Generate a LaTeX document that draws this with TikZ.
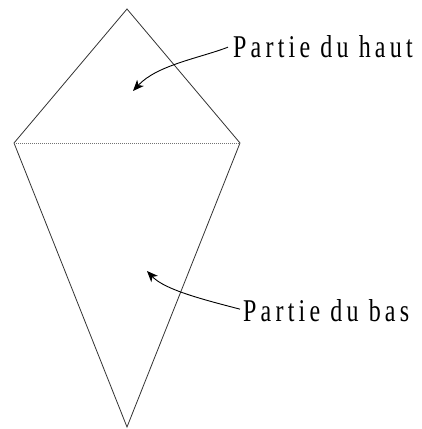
\documentclass[tikz,border=0pt]{standalone}
\usepackage{fontspec}
\setmainfont{Liberation Serif}
\usetikzlibrary{arrows.meta}
\tikzset{
  edge/.style={line width=0.8pt, black!80},
  lbl/.style={anchor=base west, inner sep=0pt, font=\fontsize{24}{24}\selectfont\addfontfeature{LetterSpace=17.5}},
  pointer/.style={line width=0.9pt, -{Stealth[length=11pt,width=9pt,inset=3pt]}}
}
\begin{document}
\begin{tikzpicture}[x=1pt,y=-1pt]
\useasboundingbox (0,0) rectangle (422,429);
\coordinate (top) at (127,9);
\coordinate (left) at (14,143);
\coordinate (right) at (240,143);
\coordinate (bot) at (127,427);
\draw[edge] (left) -- (top) -- (right) -- (bot) -- cycle;
\draw[black!55, line width=1pt, densely dotted] (left) -- (right);
\node[lbl] (haut) at (233,57) {\scalebox{1}[1.32]{Partie du haut}};
\node[lbl] (bas) at (243,321) {\scalebox{1}[1.32]{Partie du bas}};
\coordinate (hautend) at (133,91);
\coordinate (basend) at (147,271);
\draw[pointer] ([xshift=-5pt,yshift=-1pt]haut.west) .. controls (200,58) and (157,65) .. (hautend);
\draw[pointer] ([xshift=-3pt,yshift=1pt]bas.west) .. controls (205,300) and (165,290) .. (basend);
\end{tikzpicture}
\end{document}
